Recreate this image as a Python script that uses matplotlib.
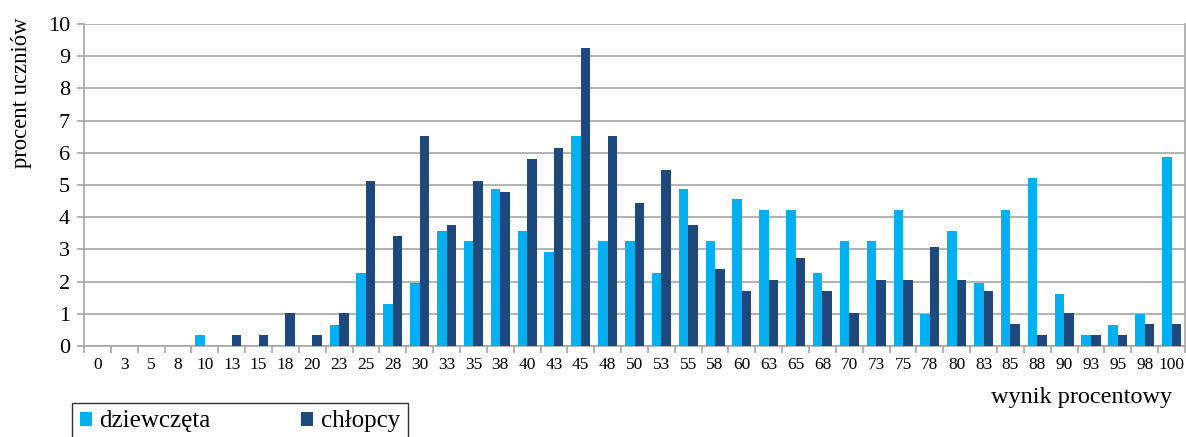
import matplotlib.pyplot as plt
import numpy as np

plt.rcParams['font.family'] = ['Liberation Serif', 'DejaVu Serif']

wyniki = ['0', '3', '5', '8', '10', '13', '15', '18', '20', '23', '25', '28', '30', '33',
          '35', '38', '40', '43', '45', '48', '50', '53', '55', '58', '60', '63', '65', '68',
          '70', '73', '75', '78', '80', '83', '85', '88', '90', '93', '95', '98', '100']

dziewczeta = [0, 0, 0, 0, 0.33, 0, 0, 0, 0, 0.65, 2.28, 1.30, 1.95, 3.58,
              3.26, 4.89, 3.58, 2.93, 6.51, 3.26, 3.26, 2.28, 4.89, 3.26, 4.56, 4.23, 4.23, 2.28,
              3.26, 3.26, 4.23, 0.98, 3.58, 1.95, 4.23, 5.21, 1.63, 0.33, 0.65, 0.98, 5.86]

chlopcy = [0, 0, 0, 0, 0, 0.34, 0.34, 1.03, 0.34, 1.03, 5.13, 3.42, 6.51, 3.76,
           5.13, 4.79, 5.82, 6.16, 9.25, 6.51, 4.45, 5.48, 3.76, 2.39, 1.71, 2.05, 2.74, 1.71,
           1.03, 2.05, 2.05, 3.08, 2.05, 1.71, 0.68, 0.34, 1.03, 0.34, 0.34, 0.68, 0.68]

kolor_d = '#00B0F0'
kolor_c = '#1F497D'
siatka = '#A6A6A6'

fig = plt.figure(figsize=(11.86, 4.37), dpi=100)
ax = fig.add_axes([84 / 1186, 1 - 346 / 437, 1101 / 1186, 322 / 437])

x = np.arange(len(wyniki))
w = 0.355
ax.bar(x - w / 2, dziewczeta, w, color=kolor_d, label='dziewczęta', zorder=3)
ax.bar(x + w / 2, chlopcy, w, color=kolor_c, label='chłopcy', zorder=3)

ax.set_xlim(-0.5, len(wyniki) - 0.5)
ax.set_ylim(0, 10)
ax.set_yticks(range(0, 11))
ax.yaxis.grid(True, color=siatka, linewidth=1.2, zorder=0)

ax.set_xticks(x)
ax.set_xticklabels(wyniki, fontsize=12.5)
ax.set_xticks(np.arange(-0.5, len(wyniki)), minor=True)
ax.tick_params(axis='x', which='major', length=0, pad=8)
ax.tick_params(axis='x', which='minor', length=5, color=siatka, width=1.2)
ax.tick_params(axis='y', length=5, color=siatka, width=1.2, labelsize=16, pad=5)

ax.spines['top'].set_visible(False)
for s in ['left', 'bottom', 'right']:
    ax.spines[s].set_color(siatka)
    ax.spines[s].set_linewidth(1.2)

fig.text(21 / 1186, 1 - 93 / 437, 'procent uczniów', rotation=90, ha='center', va='center', fontsize=16.3)
fig.text(1172 / 1186, 1 - 397 / 437, 'wynik procentowy', ha='right', va='center', fontsize=17.5)

leg = fig.legend(loc='upper left', bbox_to_anchor=(72 / 1186, 1 - 403 / 437), ncol=2,
                 fontsize=18, frameon=True, fancybox=False, edgecolor='black',
                 handlelength=0.5, handleheight=0.5, handletextpad=0.3, columnspacing=3.6,
                 borderpad=0.3, borderaxespad=0)
leg.get_frame().set_linewidth(1.0)

fig.savefig('out.png', dpi=100)
